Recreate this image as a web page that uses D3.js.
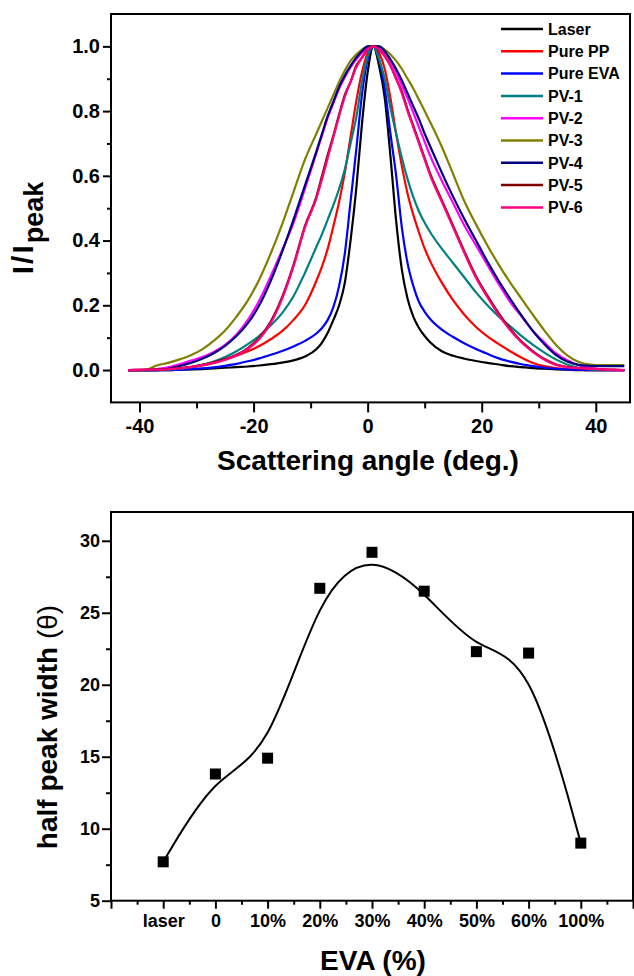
<!DOCTYPE html>
<html><head><meta charset="utf-8">
<script src="https://cdn.jsdelivr.net/npm/d3@7"></script>
<style>
body{margin:0;background:#fff}
svg{display:block}
text{font-family:"Liberation Sans",Arial,sans-serif;fill:#000}
</style>
</head><body>
<svg id="c" width="634" height="976"></svg>
<script>
// ---------- DATA: top panel (normalized intensity vs scattering angle) ----------
const angles = [-42,-39,-37,-35,-33,-31,-29,-27,-25,-23,-21,-19,-17,-15,-13,-11,
  -9,-8,-7,-6,-5,-4,-3,-2,-1,0, 1, 2,3,4,5,6,7,8,9,10,11,
  13,15,17,19,21,23,25,27,29,31,33,35,37,39,41,43,45];

const seriesNames = ["Laser","Pure PP","Pure EVA","PV-1","PV-2","PV-3","PV-4","PV-5","PV-6"];
const seriesColors = ["#000000","#ff0000","#0000ff","#008080","#ff00ff","#808000","#000080","#800000","#ff0080"];

const laser = [0,0,0,0,0.001,0.002,0.003,0.005,0.007,0.009,0.011,0.014,0.018,0.023,0.030,0.042,
  0.064,0.085,0.115,0.155,0.20,0.27,0.40,0.56,0.76,0.92, 1,
  0.94,0.84,0.66,0.46,0.31,0.22,0.165,0.13,0.105,0.085,
  0.058,0.044,0.035,0.028,0.022,0.017,0.012,0.009,0.006,0.004,0.002,0.001,0,0,0,0,0];
const purePP = [0,0,0,0.001,0.004,0.008,0.014,0.022,0.032,0.044,0.058,0.074,0.095,0.12,0.155,0.20,
  0.275,0.32,0.375,0.445,0.52,0.61,0.72,0.83,0.92,0.98, 1,
  0.98,0.93,0.84,0.73,0.63,0.545,0.48,0.425,0.375,0.335,
  0.27,0.215,0.17,0.133,0.104,0.08,0.058,0.038,0.022,0.012,0.006,0.003,0.001,0,0,0,0];
const pureEVA = [0,0,0,0,0.001,0.003,0.005,0.008,0.013,0.019,0.027,0.036,0.047,0.059,0.073,0.09,
  0.113,0.13,0.155,0.195,0.26,0.36,0.52,0.68,0.85,0.96, 1,
  0.96,0.87,0.73,0.60,0.44,0.33,0.26,0.21,0.18,0.157,
  0.125,0.102,0.082,0.065,0.05,0.036,0.026,0.018,0.012,0.007,0.004,0.002,0.001,0,0,0,0];
const pv1 = [0,0,0,0.001,0.004,0.009,0.016,0.026,0.04,0.058,0.08,0.106,0.138,0.176,0.228,0.30,
  0.38,0.42,0.465,0.51,0.56,0.62,0.70,0.78,0.89,0.97, 1,
  0.96,0.90,0.81,0.73,0.655,0.59,0.535,0.49,0.455,0.425,
  0.375,0.33,0.285,0.24,0.20,0.165,0.135,0.105,0.078,0.054,0.033,0.017,0.007,0.002,0,0,0];
const pv2 = [0,0,0.003,0.008,0.018,0.029,0.04,0.056,0.078,0.11,0.155,0.215,0.29,0.37,0.455,0.56,
  0.67,0.725,0.78,0.825,0.87,0.905,0.935,0.96,0.98,0.995, 1,
  0.995,0.98,0.955,0.92,0.88,0.84,0.795,0.75,0.705,0.66,
  0.585,0.515,0.445,0.385,0.325,0.265,0.21,0.165,0.12,0.085,0.052,0.03,0.015,0.006,0.002,0,0];
const pv3 = [0,0,0.014,0.022,0.033,0.046,0.064,0.09,0.122,0.165,0.215,0.28,0.36,0.45,0.55,0.65,
  0.73,0.77,0.81,0.85,0.89,0.925,0.955,0.975,0.99,1.0, 1,
  1.0,0.99,0.975,0.955,0.93,0.90,0.87,0.835,0.80,0.765,
  0.69,0.605,0.52,0.45,0.385,0.325,0.27,0.22,0.17,0.122,0.078,0.045,0.025,0.017,0.015,0.015,0.015];
const pv4 = [0,0,0,0.004,0.012,0.022,0.035,0.052,0.075,0.105,0.145,0.20,0.275,0.365,0.465,0.57,
  0.675,0.73,0.785,0.83,0.875,0.91,0.94,0.965,0.985,1.0, 1,
  1.0,0.985,0.96,0.93,0.895,0.855,0.815,0.775,0.73,0.69,
  0.61,0.535,0.465,0.40,0.335,0.275,0.22,0.168,0.12,0.08,0.047,0.026,0.016,0.013,0.012,0.012,0.012];
const pv5 = [0,0.001,0.002,0.003,0.006,0.01,0.016,0.024,0.034,0.047,0.068,0.1,0.15,0.225,0.325,0.445,
  0.535,0.60,0.665,0.725,0.79,0.85,0.89,0.94,0.965,0.99, 1,
  0.99,0.97,0.94,0.90,0.86,0.805,0.755,0.705,0.655,0.605,
  0.525,0.445,0.365,0.29,0.23,0.175,0.127,0.088,0.058,0.034,0.018,0.01,0.006,0.004,0.002,0.001,0];
const pv6 = [0,0.001,0.001,0.002,0.005,0.009,0.015,0.022,0.032,0.045,0.065,0.096,0.145,0.22,0.32,0.44,
  0.53,0.59,0.655,0.72,0.785,0.845,0.89,0.935,0.965,0.99, 1,
  0.99,0.97,0.94,0.90,0.855,0.80,0.75,0.70,0.65,0.60,
  0.52,0.44,0.36,0.285,0.225,0.17,0.123,0.085,0.055,0.032,0.016,0.009,0.006,0.004,0.002,0.001,0];
const seriesValues = [laser, purePP, pureEVA, pv1, pv2, pv3, pv4, pv5, pv6];

const topXMajor = [-40,-20,0,20,40];
const topXMinor = [-30,-10,10,30];
const topYMajor = [0,0.2,0.4,0.6,0.8,1.0];
const topYMinor = [0.1,0.3,0.5,0.7,0.9];

// ---------- DATA: bottom panel (half peak width vs EVA content) ----------
const evaCategories = ["laser","0","10%","20%","30%","40%","50%","60%","100%"];
const halfPeakWidth = [7.7, 13.8, 14.9, 26.7, 29.2, 26.5, 22.3, 22.2, 9.0];
const botYMajor = [5,10,15,20,25,30];
const botYMinor = [7.5,12.5,17.5,22.5,27.5];

// ---------- DRAW ----------
const svg = d3.select("#c");
const FONT = "Liberation Sans, Arial, sans-serif";

function styleAxis(g, fs){
  g.select(".domain").remove();
  g.selectAll(".tick line").attr("stroke","#000").attr("stroke-width",2);
  g.selectAll(".tick text").attr("font-size",fs).attr("font-weight","bold")
    .attr("fill","#000").attr("font-family",FONT);
  g.attr("font-family",FONT);
}

// ---- top panel ----
const T = {l:111, r:630, t:14, b:402.4};
const tx = d3.scaleLinear().domain([-45,46]).range([T.l,T.r]);
const ty = d3.scaleLinear().domain([-0.1,1.1]).range([T.b,T.t]);

svg.append("clipPath").attr("id","clipTop").append("rect")
  .attr("x",T.l).attr("y",T.t).attr("width",T.r-T.l).attr("height",T.b-T.t);

const line = d3.line().x(d=>tx(d[0])).y(d=>ty(d[1])).curve(d3.curveMonotoneX);
const gCurves = svg.append("g").attr("clip-path","url(#clipTop)");
seriesValues.forEach((vals,i)=>{
  gCurves.append("path")
    .datum(angles.map((a,j)=>[a, vals[j]]))
    .attr("d", line)
    .attr("fill","none")
    .attr("stroke", seriesColors[i])
    .attr("stroke-width", 2.2)
    .attr("stroke-linejoin","round");
});

// axes
svg.append("g").attr("transform",`translate(0,${T.b})`)
  .call(d3.axisBottom(tx).tickValues(topXMajor).tickSize(10).tickPadding(6).tickFormat(d=>String(d)))
  .call(g=>styleAxis(g,20));
svg.append("g").attr("transform",`translate(0,${T.b})`)
  .call(d3.axisBottom(tx).tickValues(topXMinor).tickSize(6).tickFormat(""))
  .call(g=>styleAxis(g,20));
svg.append("g").attr("transform",`translate(${T.l},0)`)
  .call(d3.axisLeft(ty).tickValues(topYMajor).tickSize(8).tickPadding(3).tickFormat(d3.format(".1f")))
  .call(g=>styleAxis(g,20));
svg.append("g").attr("transform",`translate(${T.l},0)`)
  .call(d3.axisLeft(ty).tickValues(topYMinor).tickSize(4).tickFormat(""))
  .call(g=>styleAxis(g,20));

svg.append("rect").attr("x",T.l).attr("y",T.t).attr("width",T.r-T.l).attr("height",T.b-T.t)
  .attr("fill","none").attr("stroke","#000").attr("stroke-width",2);

// legend
const leg = svg.append("g");
seriesNames.forEach((n,i)=>{
  const y = 29 + i*22.3;
  leg.append("line").attr("x1",501).attr("x2",543).attr("y1",y).attr("y2",y)
    .attr("stroke",seriesColors[i]).attr("stroke-width",2.5);
  leg.append("text").attr("x",548).attr("y",y).attr("dy","0.36em")
    .attr("font-size",16).attr("font-weight","bold").text(n);
});

// titles
svg.append("text").attr("x",368).attr("y",470).attr("text-anchor","middle")
  .attr("font-size",28).attr("font-weight","bold").text("Scattering angle (deg.)");
const yt = svg.append("text").attr("transform","translate(33,228) rotate(-90)")
  .attr("text-anchor","middle").attr("font-weight","bold");
yt.append("tspan").attr("font-size",30).attr("letter-spacing",2).text("I/I");
yt.append("tspan").attr("font-size",27).attr("dy",10).text("peak");

// ---- bottom panel ----
const B = {l:111, r:633, t:512, b:900.7};
const bx = d3.scaleLinear().domain([-1,9]).range([B.l,B.r]);
const by = d3.scaleLinear().domain([5,32]).range([B.b,B.t]);

svg.append("g").attr("transform",`translate(0,${B.b})`)
  .call(d3.axisBottom(bx).tickValues(d3.range(-1,10)).tickSize(8).tickPadding(6)
    .tickFormat(d=> (d>=0 && d<evaCategories.length) ? evaCategories[d] : ""))
  .call(g=>styleAxis(g,18));
svg.append("g").attr("transform",`translate(0,${B.b})`)
  .call(d3.axisBottom(bx).tickValues(d3.range(-0.5,9,1)).tickSize(4).tickFormat(""))
  .call(g=>styleAxis(g,18));
svg.append("g").attr("transform",`translate(${B.l},0)`)
  .call(d3.axisLeft(by).tickValues(botYMajor).tickSize(9).tickPadding(2).tickFormat(d3.format("d")))
  .call(g=>styleAxis(g,18));
svg.append("g").attr("transform",`translate(${B.l},0)`)
  .call(d3.axisLeft(by).tickValues(botYMinor).tickSize(5).tickFormat(""))
  .call(g=>styleAxis(g,18));

svg.append("rect").attr("x",B.l).attr("y",B.t).attr("width",B.r-B.l).attr("height",B.b-B.t)
  .attr("fill","none").attr("stroke","#000").attr("stroke-width",2);

const pts = halfPeakWidth.map((v,i)=>[i,v]);
svg.append("path").datum(pts)
  .attr("d", d3.line().x(d=>bx(d[0])).y(d=>by(d[1])).curve(d3.curveBasis))
  .attr("fill","none").attr("stroke","#000").attr("stroke-width",2);
svg.append("g").selectAll("rect").data(pts).join("rect")
  .attr("x",d=>bx(d[0])-5.5).attr("y",d=>by(d[1])-5.5)
  .attr("width",11).attr("height",11).attr("fill","#000");

svg.append("text").attr("x",373).attr("y",970).attr("text-anchor","middle")
  .attr("font-size",28).attr("font-weight","bold").text("EVA (%)");
const bt = svg.append("text").attr("transform","translate(57,727) rotate(-90)")
  .attr("text-anchor","middle").attr("font-size",28);
bt.append("tspan").attr("font-weight","bold").text("half peak width ");
bt.append("tspan").attr("font-weight","normal").text("(θ)");
</script>
</body></html>
